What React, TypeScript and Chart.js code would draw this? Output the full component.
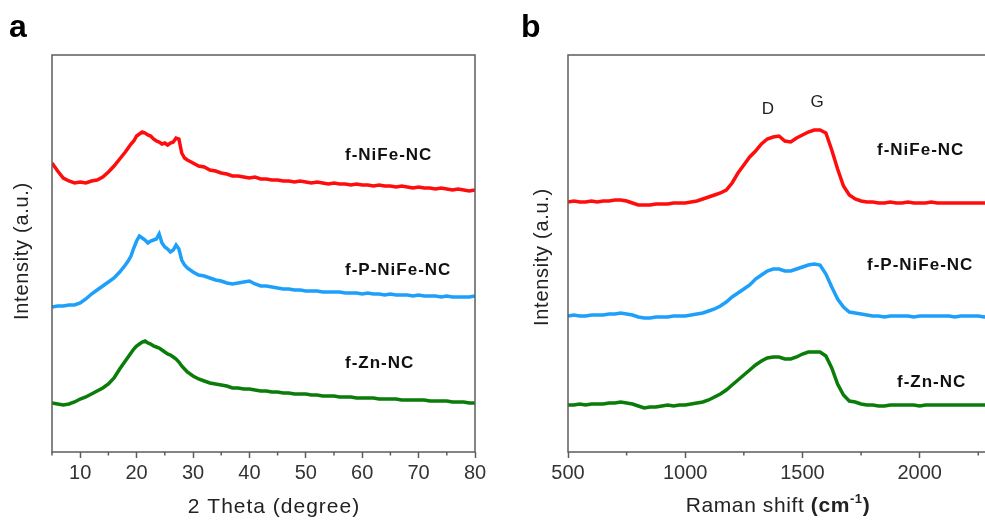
import React, { useEffect, useRef } from 'react';
import { Chart, registerables } from 'chart.js';
Chart.register(...registerables);

// ---------- XRD (panel a) ----------
const xrdTheta = [
  5, 6, 7, 8, 9, 10, 11, 12, 13, 14, 15, 16, 17, 18,
  18.5, 19, 19.5, 20, 20.5, 21, 21.5, 22, 22.5, 23, 23.5, 24, 24.5, 25, 25.5, 26, 26.5, 27, 27.5, 28, 28.5, 29,
  30, 31, 32, 33, 34, 35, 36, 37, 38, 39, 40, 41, 42, 43, 44, 45, 46, 47, 48, 49,
  50, 51, 52, 53, 54, 55, 56, 57, 58, 59, 60, 61, 62, 63, 64, 65, 66, 67, 68, 69,
  70, 71, 72, 73, 74, 75, 76, 77, 78, 79, 80,
];
const xrdNiFe = [
  289, 281, 274, 271, 269, 270, 269, 271, 272, 275, 280, 286, 293, 300,
  304, 308, 311, 316, 318, 320, 319, 317, 316, 313, 311, 310, 308, 309, 307, 309, 310, 314, 313, 299, 294, 292,
  289, 286, 285, 282, 281, 279, 278, 276, 276, 275, 274, 275, 273, 273, 272, 272, 271, 271, 270, 271,
  270, 269, 270, 269, 268, 269, 268, 268, 267, 268, 267, 267, 266, 267, 266, 266, 265, 266, 265, 264,
  265, 264, 264, 263, 264, 263, 262, 263, 262, 261, 262,
];
const xrdPNiFe = [
  145, 146, 146, 147, 147, 149, 153, 158, 162, 166, 170, 174, 180, 187,
  191, 196, 204, 211, 216, 214, 212, 209, 211, 212, 213, 218, 209, 205, 203, 200, 202, 207, 203, 192, 187, 184,
  180, 177, 176, 174, 172, 171, 169, 168, 169, 170, 171, 168, 166, 166, 165, 164, 163, 163, 162, 162,
  161, 161, 161, 160, 160, 160, 160, 159, 159, 159, 158, 159, 158, 158, 157, 158, 157, 157, 157, 156,
  157, 156, 156, 156, 155, 156, 155, 155, 155, 155, 156,
];
const xrdZn = [
  49, 48, 47, 48, 50, 53, 55, 58, 61, 64, 68, 74, 83, 91,
  95, 99, 103, 106, 108, 110, 111, 109, 108, 106, 105, 104, 102, 100, 98, 97, 95, 93, 90, 86, 83, 80,
  76, 73, 71, 69, 68, 67, 66, 64, 64, 63, 63, 62, 61, 61, 60, 60, 59, 59, 58, 58,
  58, 57, 57, 56, 56, 56, 55, 55, 55, 54, 54, 54, 54, 53, 53, 53, 53, 52, 52, 52,
  52, 52, 51, 51, 51, 51, 50, 50, 50, 49, 49,
];
const xrdMajorTicks = [10, 20, 30, 40, 50, 60, 70, 80];
const xrdMinorTicks = [5, 15, 25, 35, 45, 55, 65, 75];

// ---------- Raman (panel b) ----------
const ramanShift = [
  500, 525, 550, 575, 600, 625, 650, 675, 700, 725,
  750, 775, 800, 825, 850, 875, 900, 925, 950, 975,
  1000, 1025, 1050, 1075, 1100, 1125, 1150, 1175, 1200, 1225,
  1250, 1275, 1300, 1325, 1350, 1375, 1400, 1425, 1450, 1475,
  1500, 1525, 1550, 1575, 1600, 1625, 1650, 1675, 1700, 1725,
  1750, 1775, 1800, 1825, 1850, 1875, 1900, 1925, 1950, 1975,
  2000, 2025, 2050, 2075, 2100, 2125, 2150, 2175, 2200, 2225,
  2250, 2275, 2300,
];
const ramanNiFe = [
  250, 251, 250, 250, 251, 250, 251, 251, 252, 252,
  251, 249, 247, 247, 247, 248, 248, 248, 249, 249,
  249, 250, 251, 253, 255, 257, 259, 262, 269, 279,
  287, 295, 301, 308, 313, 315, 316, 311, 310, 314,
  317, 320, 322, 322, 319, 302, 283, 266, 257, 253,
  251, 250, 250, 249, 249, 250, 249, 249, 250, 249,
  249, 249, 250, 249, 249, 249, 249, 249, 249, 249,
  249, 249, 249,
];
const ramanPNiFe = [
  136, 137, 136, 136, 137, 137, 137, 138, 138, 139,
  138, 137, 135, 134, 134, 135, 135, 135, 136, 136,
  136, 137, 138, 139, 141, 143, 146, 150, 155, 159,
  163, 167, 173, 177, 181, 183, 183, 181, 181, 183,
  185, 187, 188, 187, 178, 165, 153, 145, 140, 139,
  138, 137, 136, 136, 135, 136, 136, 136, 136, 135,
  136, 136, 136, 136, 136, 136, 135, 136, 136, 136,
  136, 135, 136,
];
const ramanZn = [
  47, 47, 48, 47, 48, 48, 48, 49, 49, 50,
  49, 48, 46, 44, 45, 45, 46, 47, 46, 47,
  47, 48, 49, 50, 52, 55, 58, 62, 67, 72,
  77, 82, 87, 91, 94, 95, 95, 93, 93, 95,
  98, 100, 100, 100, 96, 84, 68, 57, 51, 50,
  48, 47, 47, 46, 46, 47, 47, 47, 47, 47,
  46, 47, 47, 47, 47, 47, 47, 47, 47, 47,
  47, 47, 47,
];
const ramanMajorTicks = [500, 1000, 1500, 2000];
const ramanMinorTicks = [750, 1250, 1750, 2250];

const seriesNames = ['f-NiFe-NC', 'f-P-NiFe-NC', 'f-Zn-NC'];
const seriesColors = ['#ff0d0d', '#1ea0fa', '#0a7c0a'];

const FONT = '"Liberation Sans", Arial, Helvetica, sans-serif';

type Run = { text: string; font: string; dy?: number };
type Txt = {
  runs: Run[];
  x: number;
  y: number;
  align: 'left' | 'center';
  rotate?: boolean;
  spacing?: number;
  color?: string;
  baseline?: CanvasTextBaseline;
};

function toPoints(xs: number[], ys: number[]) {
  return xs.map((x, i) => ({ x, y: ys[i] }));
}

function overlay(minor: number[], texts: Txt[]) {
  return {
    id: 'overlay',
    afterDraw(chart: any) {
      const ctx: CanvasRenderingContext2D = chart.ctx;
      const a = chart.chartArea;
      const xs = chart.scales.x;
      ctx.save();
      ctx.strokeStyle = '#5c5c5c';
      ctx.lineWidth = 1.5;
      ctx.strokeRect(a.left, a.top, a.right - a.left, a.bottom - a.top);
      ctx.beginPath();
      minor.forEach((v) => {
        const px = xs.getPixelForValue(v);
        ctx.moveTo(px, a.bottom);
        ctx.lineTo(px, a.bottom + 3.5);
      });
      ctx.stroke();
      texts.forEach((t) => {
        ctx.save();
        (ctx as any).letterSpacing = `${t.spacing ?? 0}px`;
        ctx.fillStyle = t.color ?? '#222';
        ctx.textBaseline = t.baseline ?? 'middle';
        ctx.textAlign = 'left';
        let total = 0;
        const widths = t.runs.map((r) => {
          ctx.font = r.font;
          const w = ctx.measureText(r.text).width;
          total += w;
          return w;
        });
        ctx.translate(t.x, t.y);
        if (t.rotate) ctx.rotate(-Math.PI / 2);
        let cx = t.align === 'center' ? -total / 2 : 0;
        t.runs.forEach((r, i) => {
          ctx.font = r.font;
          ctx.fillText(r.text, cx, r.dy ?? 0);
          cx += widths[i];
        });
        ctx.restore();
      });
      ctx.restore();
    },
  };
}

function makeConfig(
  xs: number[],
  ys: number[][],
  xmin: number,
  xmax: number,
  major: number[],
  minor: number[],
  pad: { left: number; right: number; top: number },
  texts: Txt[]
): any {
  return {
    type: 'line',
    data: {
      datasets: ys.map((d, i) => ({
        label: seriesNames[i],
        data: toPoints(xs, d),
        borderColor: seriesColors[i],
        borderWidth: 3.5,
        pointRadius: 0,
        tension: 0,
        fill: false,
      })),
    },
    options: {
      responsive: false,
      animation: false,
      devicePixelRatio: 1,
      layout: { padding: { left: pad.left, right: pad.right, top: pad.top, bottom: 0 } },
      plugins: { legend: { display: false }, tooltip: { enabled: false } },
      scales: {
        x: {
          type: 'linear',
          min: xmin,
          max: xmax,
          afterBuildTicks: (s: any) => {
            s.ticks = major.map((v) => ({ value: v }));
          },
          afterFit: (s: any) => {
            s.height = 69;
          },
          border: { display: false },
          grid: {
            display: true,
            drawOnChartArea: false,
            drawTicks: true,
            tickLength: 6,
            tickColor: '#5c5c5c',
            tickWidth: 1.5,
          },
          ticks: {
            autoSkip: false,
            maxRotation: 0,
            padding: 3,
            color: '#333',
            font: { family: FONT, size: 20 },
            callback: (v: number) => String(v),
          },
        },
        y: { display: false, min: 0, max: 397 },
      },
    },
    plugins: [overlay(minor, texts)],
  };
}

const bold17 = `bold 17px ${FONT}`;
const reg20 = `20px ${FONT}`;
const reg21 = `21px ${FONT}`;

const leftTexts: Txt[] = [
  { runs: [{ text: 'a', font: `bold 32px ${FONT}` }], x: 9, y: 37, align: 'left', baseline: 'alphabetic', color: '#000' },
  { runs: [{ text: 'Intensity (a.u.)', font: reg20 }], x: 22, y: 251, align: 'center', rotate: true, spacing: 0.7 },
  { runs: [{ text: '2 Theta (degree)', font: reg21 }], x: 274, y: 507, align: 'center', spacing: 1 },
  { runs: [{ text: seriesNames[0], font: bold17 }], x: 345, y: 155, align: 'left', spacing: 1, color: '#111' },
  { runs: [{ text: seriesNames[1], font: bold17 }], x: 345, y: 270, align: 'left', spacing: 1, color: '#111' },
  { runs: [{ text: seriesNames[2], font: bold17 }], x: 345, y: 363, align: 'left', spacing: 1, color: '#111' },
];

const OX = 500;
const rightTexts: Txt[] = [
  { runs: [{ text: 'b', font: `bold 32px ${FONT}` }], x: 521 - OX, y: 37, align: 'left', baseline: 'alphabetic', color: '#000' },
  { runs: [{ text: 'Intensity (a.u.)', font: reg20 }], x: 542 - OX, y: 257, align: 'center', rotate: true, spacing: 0.7 },
  {
    runs: [
      { text: 'Raman shift ', font: reg21 },
      { text: '(cm', font: `bold 21px ${FONT}` },
      { text: '-1', font: `bold 13px ${FONT}`, dy: -7 },
      { text: ')', font: `bold 21px ${FONT}` },
    ],
    x: 778 - OX,
    y: 506,
    align: 'center',
    spacing: 0.6,
  },
  { runs: [{ text: 'D', font: `17px ${FONT}` }], x: 768 - OX, y: 109, align: 'center' },
  { runs: [{ text: 'G', font: `17px ${FONT}` }], x: 817 - OX, y: 102, align: 'center' },
  { runs: [{ text: seriesNames[0], font: bold17 }], x: 877 - OX, y: 150, align: 'left', spacing: 1, color: '#111' },
  { runs: [{ text: seriesNames[1], font: bold17 }], x: 867 - OX, y: 265, align: 'left', spacing: 1, color: '#111' },
  { runs: [{ text: seriesNames[2], font: bold17 }], x: 897 - OX, y: 382, align: 'left', spacing: 1, color: '#111' },
];

export default function App() {
  const leftRef = useRef<HTMLCanvasElement>(null);
  const rightRef = useRef<HTMLCanvasElement>(null);

  useEffect(() => {
    const c1 = new Chart(
      leftRef.current!,
      makeConfig(xrdTheta, [xrdNiFe, xrdPNiFe, xrdZn], 5, 80, xrdMajorTicks, xrdMinorTicks, { left: 52, right: 25, top: 55 }, leftTexts)
    );
    const c2 = new Chart(
      rightRef.current!,
      makeConfig(ramanShift, [ramanNiFe, ramanPNiFe, ramanZn], 500, 2300, ramanMajorTicks, ramanMinorTicks, { left: 68, right: 10, top: 55 }, rightTexts)
    );
    return () => {
      c1.destroy();
      c2.destroy();
    };
  }, []);

  return (
    <div style={{ position: 'fixed', left: 0, top: 0, width: 985, height: 521, overflow: 'hidden', background: '#fff' }}>
      <canvas ref={leftRef} width={500} height={521} style={{ position: 'absolute', left: 0, top: 0, width: 500, height: 521 }} />
      <canvas ref={rightRef} width={500} height={521} style={{ position: 'absolute', left: 500, top: 0, width: 500, height: 521 }} />
    </div>
  );
}
